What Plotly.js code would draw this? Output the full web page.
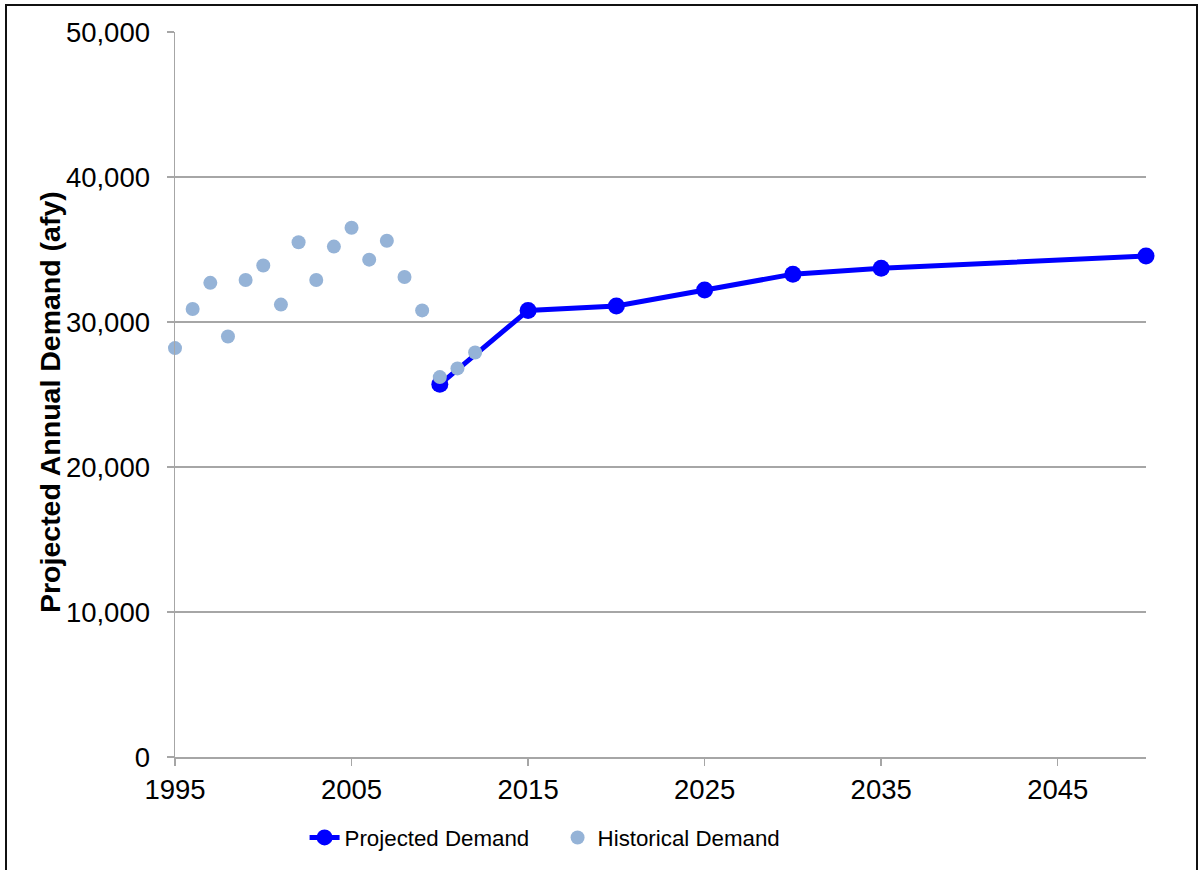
<!DOCTYPE html>
<html>
<head>
<meta charset="utf-8">
<script src="https://cdn.plot.ly/plotly-3.0.1.min.js"></script>
<style>
  html, body { margin: 0; padding: 0; background: #ffffff; }
  #wrap { position: relative; width: 1200px; height: 870px; overflow: hidden; }
  #chart { position: absolute; left: 0; top: 0; width: 1200px; height: 870px; }
  #frame { position: absolute; left: 5px; top: 4px; width: 1189px; height: 900px;
           border: 2px solid #111; pointer-events: none; }
</style>
</head>
<body>
<div id="wrap">
  <div id="chart"></div>
  <div id="frame"></div>
</div>
<script>
// Historical water demand, acre-feet per year
const histYears = [1995, 1996, 1997, 1998, 1999, 2000, 2001, 2002, 2003, 2004,
                   2005, 2006, 2007, 2008, 2009, 2010, 2011, 2012];
const histDemand = [28200, 30900, 32700, 29000, 32900, 33900, 31200, 35500, 32900, 35200,
                    36500, 34300, 35600, 33100, 30800, 26200, 26800, 27900];

// Projected water demand, acre-feet per year
const projYears = [2010, 2015, 2020, 2025, 2030, 2035, 2050];
const projDemand = [25700, 30800, 31100, 32200, 33300, 33700, 34550];

const xTicks = [1995, 2005, 2015, 2025, 2035, 2045];
const yTicks = [0, 10000, 20000, 30000, 40000, 50000];
const yTickText = ['0', '10,000', '20,000', '30,000', '40,000', '50,000'];
const yTitle = 'Projected Annual Demand (afy)';

const font = 'Liberation Sans, Arial, sans-serif';

const traces = [
  {
    x: projYears, y: projDemand, name: 'Projected Demand',
    type: 'scatter', mode: 'lines+markers', cliponaxis: false,
    line: { color: '#0000ff', width: 5 },
    marker: { color: '#0000ff', size: 17 }
  },
  {
    x: histYears, y: histDemand, name: 'Historical Demand',
    type: 'scatter', mode: 'markers', cliponaxis: false,
    marker: { color: '#95b3d7', size: 14 }
  }
];

const layout = {
  width: 1200, height: 870,
  margin: { l: 175, r: 54, t: 32, b: 113, autoexpand: false },
  paper_bgcolor: '#ffffff', plot_bgcolor: '#ffffff',
  font: { family: font, color: '#000000', size: 24 },
  showlegend: true,
  legend: {
    orientation: 'h', x: 0.394, xanchor: 'center',
    y: -0.082, yanchor: 'top',
    font: { family: font, size: 22.3, color: '#000000' },
    traceorder: 'normal', itemwidth: 30, entrywidth: 208
  },
  xaxis: {
    range: [1995, 2050], tickmode: 'array', tickvals: xTicks,
    ticks: 'outside', ticklen: 7, tickwidth: 1.5, tickcolor: '#a6a6a6',
    tickangle: 0, automargin: false,
    showgrid: false, zeroline: false,
    showline: true, linecolor: '#a6a6a6', linewidth: 1.5,
    tickfont: { family: font, size: 27.5, color: '#000000' }
  },
  yaxis: {
    range: [0, 50000], tickmode: 'array', tickvals: yTicks, ticktext: yTickText,
    ticks: 'outside', ticklen: 7, tickwidth: 1.5, tickcolor: '#a6a6a6',
    ticklabelstandoff: 11, automargin: false,
    showgrid: true, gridcolor: '#a6a6a6', gridwidth: 1.5,
    zeroline: false, showline: true, linecolor: '#a6a6a6', linewidth: 1.5,
    tickfont: { family: font, size: 27.5, color: '#000000' }
  },
  // vertical axis caption, placed beside the tick labels
  annotations: [{
    text: '<b>' + yTitle + '</b>', textangle: -90, showarrow: false,
    xref: 'paper', yref: 'paper', x: -0.1287, y: 0.4897,
    xanchor: 'center', yanchor: 'middle',
    font: { family: font, size: 28.5, color: '#000000' }
  }]
};

Plotly.newPlot('chart', traces, layout, { displayModeBar: false, staticPlot: true });
</script>
</body>
</html>
